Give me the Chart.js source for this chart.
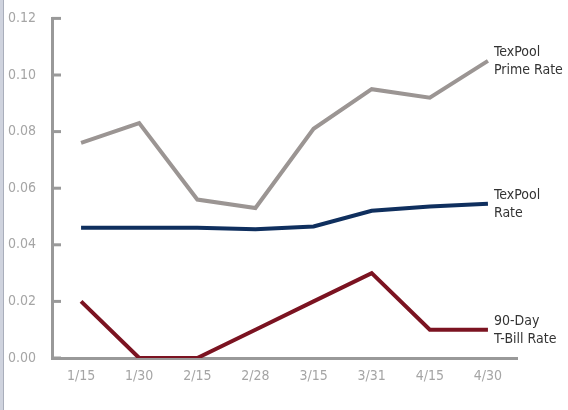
<!DOCTYPE html>
<html lang="en">
<head>
  <meta charset="UTF-8" />
  <title>TexPool rates</title>
  <style>
    body {
      margin: 0;
      padding: 0;
      background: #fff;
    }
    .frame {
      position: relative;
      width: 568px;
      height: 410px;
      background: #fff;
      overflow: hidden;
    }
    .frame::before {
      content: '';
      position: absolute;
      left: 0; top: 0; bottom: 0;
      width: 3px;
      background: #cfd3de;
      border-right: 1px solid #a9aebb;
      z-index: 1;
    }
    canvas {
      display: block;
      margin-top: -6px;
    }
  </style>
</head>
<body>
  <div class="frame">
    <canvas id="chart" width="568" height="416"></canvas>
  </div>

  <script src="https://cdn.jsdelivr.net/npm/chart.js"></script>

  <script>
    const dates = ['1/15', '1/30', '2/15', '2/28', '3/15', '3/31', '4/15', '4/30'];
    const primeRate = [0.076, 0.083, 0.056, 0.053, 0.081, 0.095, 0.092, 0.105];
    const texpoolRate = [0.046, 0.046, 0.046, 0.0455, 0.0465, 0.052, 0.0535, 0.0545];
    const tbillRate = [0.02, 0, 0, 0.01, 0.02, 0.03, 0.01, 0.01];
    const yTicks = [0, 0.02, 0.04, 0.06, 0.08, 0.10, 0.12];

    const FONT = "'Liberation Sans Narrow', 'DejaVu Sans Condensed', sans-serif";

    // line-end labels, one per series
    const endLabels = {
      id: 'endLabels',
      afterDatasetsDraw(chart) {
        const ctx = chart.ctx;
        ctx.save();
        ctx.font = '14px ' + FONT;
        ctx.fillStyle = '#333';
        ctx.textBaseline = 'middle';
        chart.data.datasets.forEach((ds, i) => {
          const pts = chart.getDatasetMeta(i).data;
          const p = pts[pts.length - 1];
          const lines = ds.endText;
          ctx.fillText(lines[0], p.x + 6, p.y - 8);
          ctx.fillText(lines[1], p.x + 6, p.y + 10);
        });
        ctx.restore();
      }
    };

    // short tick marks pointing into the plot
    const innerTicks = {
      id: 'innerTicks',
      afterDraw(chart) {
        const y = chart.scales.y;
        const ctx = chart.ctx;
        ctx.save();
        ctx.strokeStyle = '#999';
        ctx.lineWidth = 3;
        yTicks.forEach(v => {
          const py = y.getPixelForValue(v);
          ctx.beginPath();
          ctx.moveTo(y.right, py);
          ctx.lineTo(y.right + 9, py);
          ctx.stroke();
        });
        ctx.restore();
      }
    };

    new Chart(document.getElementById('chart'), {
      type: 'line',
      data: {
        labels: dates,
        datasets: [
          { label: 'TexPool Prime Rate', data: primeRate, borderColor: '#9b9593', endText: ['TexPool', 'Prime Rate'] },
          { label: 'TexPool Rate', data: texpoolRate, borderColor: '#0f2f5e', endText: ['TexPool', 'Rate'] },
          { label: '90-Day T-Bill Rate', data: tbillRate, borderColor: '#7b1321', endText: ['90-Day', 'T-Bill Rate'] }
        ].map(d => Object.assign(d, { borderWidth: 4, pointRadius: 0, tension: 0, fill: false, borderJoinStyle: 'miter' }))
      },
      options: {
        responsive: false,
        animation: false,
        layout: { padding: { left: 0, right: 51, top: 4, bottom: 0 } },
        plugins: {
          legend: { display: false },
          tooltip: { enabled: false }
        },
        scales: {
          x: {
            offset: true,
            grid: { display: false, drawTicks: false },
            border: { display: true, color: '#999', width: 3 },
            ticks: {
              color: '#a5a5a5',
              font: { family: FONT, size: 14 },
              padding: 10,
              maxRotation: 0
            },
            afterFit(scale) { scale.height = 52; }
          },
          y: {
            min: 0,
            max: 0.12,
            afterBuildTicks(scale) { scale.ticks = yTicks.map(v => ({ value: v })); },
            grid: { display: false, drawTicks: false },
            border: { display: true, color: '#999', width: 3 },
            ticks: {
              color: '#a5a5a5',
              font: { family: FONT, size: 14 },
              padding: 16,
              callback: v => v.toFixed(2)
            },
            afterFit(scale) { scale.width = 52; }
          }
        }
      },
      plugins: [endLabels, innerTicks]
    });
  </script>
</body>
</html>
